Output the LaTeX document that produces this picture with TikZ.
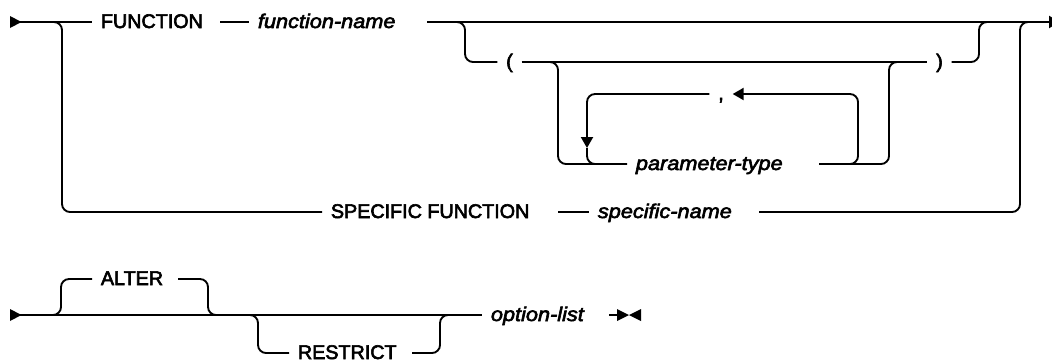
\documentclass[tikz,border=0pt]{standalone}
\usepackage{fontspec}
\setmainfont{Liberation Sans}
\newfontfamily\kwfont{Liberation Sans}[FakeBold=3]
\newfontfamily\varfont{Liberation Sans}[FakeStretch=1.1,FakeBold=3]
\usetikzlibrary{arrows.meta}
\begin{document}
\begin{tikzpicture}[x=0.75pt,y=-0.75pt,
  line width=1.4pt,
  rr/.style={rounded corners=6pt},
  kw/.style={font=\kwfont\fontsize{14.8pt}{16pt}\selectfont, text height=9pt, text depth=0pt, inner xsep=6pt, inner ysep=0pt, anchor=west},
  var/.style={kw, font=\varfont\itshape\fontsize{14.8pt}{16pt}\selectfont},
  sym/.style={kw, anchor=center},
  tip/.style={-{Triangle[length=8.2pt,width=9pt]}}
]
\useasboundingbox (0,0) rectangle (1052,362);

% ---------- first diagram ----------
\fill (10,16) -- (21.5,22) -- (10,28) -- cycle;
\coordinate (s1) at (20,22);
\node[kw] (F) at (92,22) {FUNCTION};
\draw (s1) -- (F.west);
\coordinate (d1) at (220,22);
\node[var] (fn) at (249,22) {function-name};
\draw (d1) -- (fn.west);
\coordinate (m1) at (427,22);
\coordinate (mEnd) at (1060,22);
\draw[tip] (m1) -- (mEnd);

% optional parenthesised list
\coordinate (b1) at (440,22);
\node[sym] (lp) at (509.5,62) {(};
\draw[rr] (b1) -| (465,62) -- (lp.west);
\node[sym] (rp) at (939.5,62) {)};
\draw (lp.east) -- (rp.west);
\draw[rr] (rp.east) -| (979,22) -- (1000,22);

% parameter-type repeat group
\coordinate (b2) at (540,62);
\node[var] (pt) at (627,164) {parameter-type};
\draw[rr] (b2) -| (558,164) -- (pt.west);
\coordinate (p2) at (819,164);
\draw[rr] (p2) -| (889,62) -- (905,62);

\node[sym] (cm) at (721,94) {,};
\coordinate (lr) at (830,164);
\draw[rr,tip] (lr) -| (858,94) -- (cm.east);
\coordinate (la) at (587,148);
\draw[rr,tip] (cm.west) -| (la);
\draw[rr] (la) |- (603,164);

% SPECIFIC FUNCTION branch
\coordinate (b0) at (40,22);
\node[kw] (SF) at (322,212) {SPECIFIC FUNCTION};
\draw[rr] (b0) -| (62,212) -- (SF.west);
\coordinate (d2) at (558,212);
\node[var] (sn) at (589,212) {specific-name};
\draw (d2) -- (sn.west);
\coordinate (s2) at (759,212);
\draw[rr] (s2) -| (1020,22) -- (1035,22);

% ---------- second diagram ----------
\fill (10,309) -- (21.5,315) -- (10,321) -- cycle;
\coordinate (s3) at (20,315);
\node[var] (ol) at (482,315) {option-list};
\draw (s3) -- (ol.west);

\coordinate (a0) at (45,315);
\node[kw] (al) at (92,279) {ALTER};
\draw[rr] (a0) -| (61,279) -- (al.west);
\coordinate (a2) at (178,279);
\draw[rr] (a2) -| (208,315) -- (225,315);

\coordinate (r0) at (240,315);
\node[kw] (rs) at (289,353) {RESTRICT};
\draw[rr] (r0) -| (258,353) -- (rs.west);
\coordinate (r2) at (412,353);
\draw[rr] (r2) -| (440,315) -- (455,315);

\coordinate (e1) at (609,315);
\coordinate (e2) at (618,315);
\draw (e1) -- (e2);
\fill (617,309) -- (629,315) -- (617,321) -- cycle;
\fill (641,309) -- (629,315) -- (641,321) -- cycle;
\end{tikzpicture}
\end{document}
